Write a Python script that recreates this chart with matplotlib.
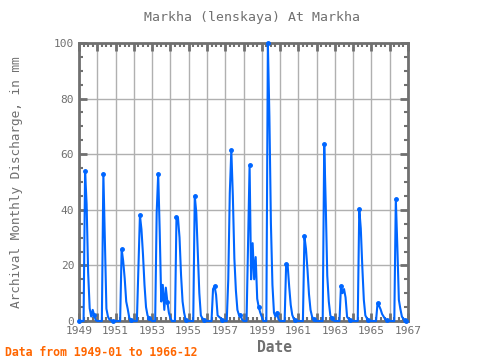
import numpy as np
import matplotlib
matplotlib.use("Agg")
import matplotlib.pyplot as plt
from matplotlib.ticker import MultipleLocator

# monthly discharge (mm), Jan..Dec per year
y1949 = [0, 0, 0, 0, 54, 42, 17.5, 4.6, 1.6, 4, 2, 0.3]
y1950 = [0, 0, 0, 0, 53, 29, 4.4, 1.6, 0.5, 0.2, 0, 0]
y1951 = [0, 0, 0, 0, 25.8, 21.6, 15.3, 7, 4.3, 1.2, 0.3, 0]
y1952 = [0, 0, 0, 19, 38, 33, 24, 13, 5, 2, 1, 0.5]
y1953 = [0, 0, 0, 39, 53, 32, 7, 13, 4, 12, 7, 3]
y1954 = [1, 0, 0, 0, 37.5, 37, 30, 16.5, 7, 3, 0.5, 0]
y1955 = [0, 0, 0, 0, 45, 39, 25, 10, 2, 1, 0.5, 0]
y1956 = [0, 0, 0, 0, 11.5, 12.5, 9.4, 2, 1.5, 1, 0.5, 0]
y1957 = [0, 0, 15, 46, 61.5, 45, 22.5, 11, 4, 2.2, 2.2, 0.6]
y1958 = [0, 0, 0, 28, 56, 15, 28, 15, 23, 8, 5, 3]
y1959 = [1.5, 0, 0, 0, 100, 73.5, 35, 13, 3, 1.5, 3, 0.6]
y1960 = [0, 0, 0, 0, 20.5, 20, 12.3, 5.8, 2.2, 0.8, 0.3, 0]
y1961 = [0, 0, 0, 0, 30.5, 26, 18.5, 9.6, 4, 1.6, 0.6, 0]
y1962 = [0, 0, 0, 0, 0, 63.5, 41.7, 16.3, 7, 2, 1, 0.2]
y1963 = [0, 0, 0, 0, 12.7, 10, 11.5, 8.5, 1.5, 0.8, 0.3, 0]
y1964 = [0, 0, 0, 0, 40.3, 33.3, 19.5, 7.6, 2, 1, 0.3, 0]
y1965 = [0, 0, 0, 0, 6.4, 5.5, 4.2, 2.5, 1.6, 0.7, 0.3, 0]
y1966 = [0, 0, 0, 0, 43.9, 26.7, 7.6, 4.3, 1.6, 0.7, 0.3, 0]

years = [y1949, y1950, y1951, y1952, y1953, y1954, y1955, y1956, y1957,
         y1958, y1959, y1960, y1961, y1962, y1963, y1964, y1965, y1966]
x_ticks = [1949, 1951, 1953, 1955, 1957, 1959, 1961, 1963, 1965, 1967]

values = np.concatenate(years)
dates = 1949 + np.arange(len(values)) / 12.0

# markers: start, end, each year's peak and each year's late autumn
marks = [0, len(values) - 1]
for i, yv in enumerate(years):
    marks.append(i * 12 + int(np.argmax(yv)))
    marks.append(i * 12 + 10)
marks = sorted(set(marks))

grey = '#707070'
font = 'DejaVu Sans Mono'

fig = plt.figure(figsize=(4.8, 3.6), dpi=100)
ax = fig.add_axes([79/480, 1-321/360, (408-79)/480, (321-43)/360])

ax.plot(dates, values, color='#0066ff', linewidth=1.5, marker='o', markersize=2.5,
        markevery=marks, clip_on=False, zorder=3)

ax.set_xlim(1949, 1967)
ax.set_ylim(0, 100)
# major tick every year, label every second year
all_years = list(range(x_ticks[0], x_ticks[-1] + 1))
ax.set_xticks(all_years)
ax.set_xticklabels([str(y) if y in x_ticks else '' for y in all_years])
ax.xaxis.set_minor_locator(MultipleLocator(0.25))
ax.yaxis.set_major_locator(MultipleLocator(20))
ax.yaxis.set_minor_locator(MultipleLocator(5))
ax.grid(True, which='major', color='#b0b0b0', linewidth=1)
ax.set_axisbelow(True)

ax.tick_params(which='both', direction='in', top=True, right=True, color=grey,
               labelcolor=grey, labelsize=8)
ax.tick_params(which='major', length=6, width=2)
ax.tick_params(which='minor', length=3, width=1.5)
for lab in ax.get_xticklabels() + ax.get_yticklabels():
    lab.set_family(font)
for s in ax.spines.values():
    s.set_color(grey)
    s.set_linewidth(2)

fig.text(252/480, 1-18/360, 'Markha (lenskaya) At Markha', ha='center', va='center',
         family=font, fontsize=9.5, color=grey)
fig.text(274/480, 1-347/360, 'Date', ha='center', va='center',
         family=font, fontsize=10.5, fontweight='bold', color=grey)
fig.text(17/480, 1-182/360, 'Archival Monthly Discharge, in mm', ha='center', va='center',
         rotation=90, family=font, fontsize=9.2, color=grey)
fig.text(5/480, 1-352/360, 'Data from 1949-01 to 1966-12', ha='left', va='center',
         family=font, fontsize=8.3, fontweight='bold', color='#ff6600')

fig.savefig('out.png', dpi=100)
